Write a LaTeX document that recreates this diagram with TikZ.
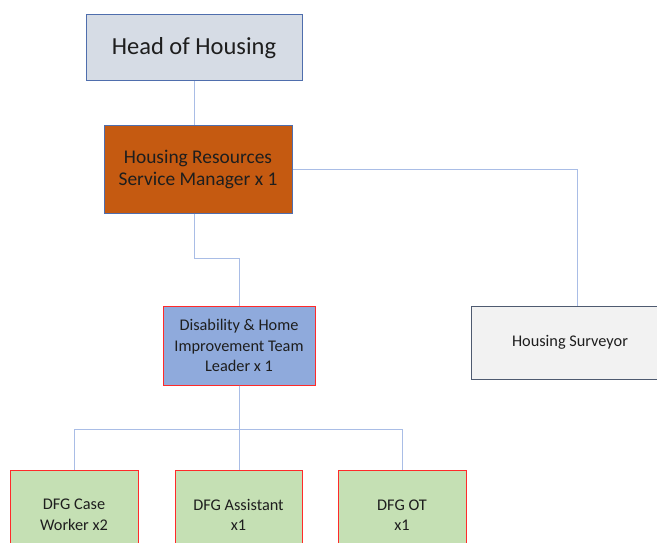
\documentclass[tikz,border=0pt]{standalone}
\usepackage{fontspec}
\setmainfont{Carlito}
\definecolor{headfill}{HTML}{D6DCE5}
\definecolor{mgrfill}{HTML}{C55A11}
\definecolor{leadfill}{HTML}{8FAADC}
\definecolor{survfill}{HTML}{F2F2F2}
\definecolor{dfgfill}{HTML}{C5E0B4}
\definecolor{bluebord}{HTML}{4F6EAD}
\definecolor{greybord}{HTML}{4E5A70}
\definecolor{redbord}{HTML}{FF2A2A}
\definecolor{linkcol}{HTML}{A9BDE6}
\definecolor{txt}{HTML}{1E1E1E}
\tikzset{
  post/.style={draw, line width=1pt, align=center, text=txt, inner sep=0pt,
    font=\fontsize{16.3}{20.5}\selectfont},
  link/.style={draw=linkcol, line width=0.9pt}
}
\begin{document}
\begin{tikzpicture}[x=1pt, y=-1pt]
    \useasboundingbox (0, 0) rectangle (657, 543);
    \clip (0, 0) rectangle (657, 543);
    \fill[white] (0, 0) rectangle (657, 543);
    % boxes
    \node[post, fill=headfill, draw=bluebord, minimum width=216, minimum height=66,
      font=\fontsize{24.5}{28}\selectfont] (head) at (194, 48) {Head of Housing};
    \node[post, fill=mgrfill, draw=bluebord, minimum width=188, minimum height=87,
      font=\fontsize{19.4}{22.5}\selectfont] (mgr)
      at (198, 169.5) {Housing Resources\\Service Manager x 1};
    \node[post, fill=leadfill, draw=redbord, minimum width=152, minimum height=79] (lead)
      at (239, 345.5) {Disability \& Home\\Improvement Team\\Leader x 1};
    \node[post, fill=survfill, draw=greybord, minimum width=212, minimum height=73] (surv)
      at (577, 342.5) {\hspace*{-14pt}Housing Surveyor};
    \node[post, fill=dfgfill, draw=redbord, minimum width=128, minimum height=90] (case)
      at (74, 515) {\raisebox{-9pt}{\parbox{128pt}{\centering DFG Case\\Worker x2}}};
    \node[post, fill=dfgfill, draw=redbord, minimum width=127, minimum height=90] (asst)
      at (238.5, 515) {\raisebox{-9pt}{\parbox{127pt}{\centering DFG Assistant\\x1}}};
    \node[post, fill=dfgfill, draw=redbord, minimum width=128, minimum height=90] (ot)
      at (402, 515) {\raisebox{-9pt}{\parbox{128pt}{\centering DFG OT\\x1}}};
    % links
    \draw[link] (head.south) -- (head.south |- mgr.north);
    \draw[link] (mgr.east) -| (surv.north);
    \draw[link] (head.south |- mgr.south) -- (head.south |- 0, 258) -| (lead.north);
    \draw[link] (lead.south) -- (lead.south |- 0, 429) -| (case.north);
    \draw[link] (lead.south) -- (lead.south |- 0, 429) -| (ot.north);
    \draw[link] (lead.south) -- (lead.south |- asst.north);
\end{tikzpicture}
\end{document}
